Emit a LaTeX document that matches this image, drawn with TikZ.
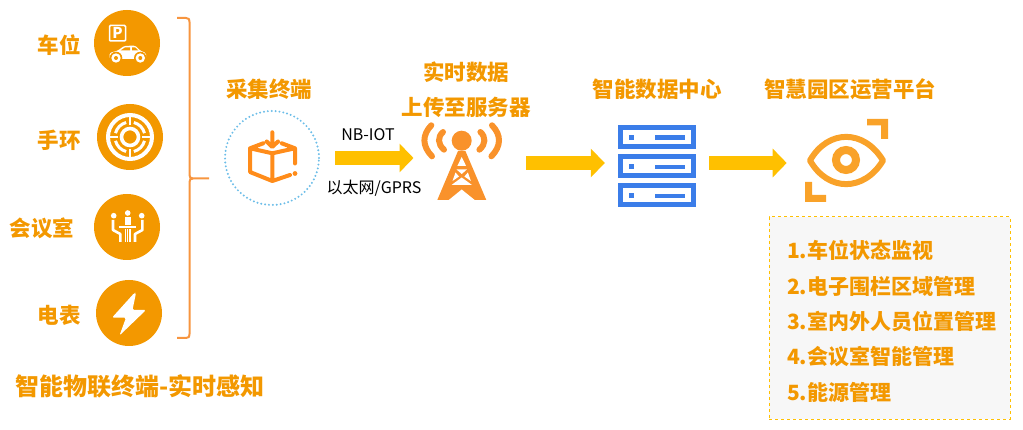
\documentclass[tikz,border=0pt]{standalone}
\usepackage{fontspec}
\setmainfont{Noto Sans CJK SC}
\usetikzlibrary{arrows.meta}
\definecolor{txtorange}{HTML}{F39800}
\definecolor{boxorange}{HTML}{FF8C1A}
\definecolor{towerorange}{HTML}{F9922B}
\definecolor{eyeorange}{HTML}{F9A229}
\definecolor{braceorange}{HTML}{F7953F}
\definecolor{arrowyellow}{HTML}{FFC000}
\definecolor{serverblue}{HTML}{3B7DE9}
\definecolor{dotblue}{HTML}{6CBDE8}
\tikzset{
  title/.style={text=txtorange, font=\fontsize{21.5}{22}\selectfont\bfseries, inner sep=0pt},
  listitem/.style={title, font=\fontsize{21}{21}\selectfont\bfseries, anchor=west},
  badge/.style={circle, fill=txtorange, minimum size=66pt, inner sep=0pt},
  place/.style={minimum width=#1, minimum height=90pt, inner sep=0pt},
  flow/.style={draw=arrowyellow, line width=14pt, -{Triangle[length=14pt,width=28pt]}},
  proto/.style={font=\fontsize{16}{16}\selectfont, inner sep=0pt},
  whiteline/.style={draw=white, line width=2.6pt}
}
\begin{document}
\begin{tikzpicture}[x=1pt, y=-1pt]
\useasboundingbox (0,0) rectangle (1023,430);

% left column
\node[badge] (park) at (127,43) {};
\node[badge] (band) at (130,137) {};
\node[badge] (room) at (127,227) {};
\node[badge] (meter) at (129,313) {};
\node[title] (parkname) at (59,45) {车位};
\node[title] (bandname) at (59,140) {手环};
\node[title] (roomname) at (42,228) {会议室};
\node[title] (metername) at (59,315) {电表};
\node[title, font=\fontsize{24}{24}\selectfont\bfseries] (things) at (140,386) {智能物联终端-实时感知};

% parking
\draw[white, line width=1.5pt, rounded corners=1pt] (109.5,25.5) rectangle (125.5,41);
\node[text=white, font=\fontsize{15}{15}\selectfont\bfseries, inner sep=0pt] (parkp) at (117.5,33) {P};
\fill[white, rounded corners=1.5pt] (109.5,59) -- (109.5,53) -- (118,50.5) -- (124,46) -- (135,45.5) -- (140,50.5) -- (146,53) -- (146,59) -- cycle;
\fill[txtorange] (120.5,50.5) -- (125,47.5) -- (130,47.3) -- (130,50.5) -- cycle (132,47.3) -- (135,47.3) -- (138.5,50.5) -- (132,50.5) -- cycle;
\foreach \x in {116,140.3} {
  \fill[txtorange] (\x,58) circle (6.3);
  \fill[white] (\x,58) circle (4.7);
  \fill[txtorange] (\x,58) circle (2);
}

% band
\draw[white, line width=4pt] (band) circle (22);
\draw[white, line width=3.6pt] (band) circle (8.5);
\foreach \a in {0,90,180,270} {
  \draw[white, line width=3pt] (\a+15:15) ++(130,137) arc[start angle=\a+15, end angle=\a+75, radius=15];
  \draw[white, line width=2.4pt] (130,137) ++(\a:21) -- ++(\a:-9);
}

% room
\foreach \x/\y in {113.7/215.7, 127.7/213, 141.7/215.7} \fill[white] (\x,\y) circle (2.8);
\fill[white] (124.7,217) rectangle (130.7,225);
\fill[white] (119.3,226) rectangle (136,228.2);
\foreach \x in {125.5,127.7,130} \draw[white, line width=1.3pt] (\x,229) -- (\x,242);
\draw[whiteline, line join=round] (113,220) -- (113,230) -- (120.3,234) -- (120.3,242);
\draw[whiteline, line join=round] (142.4,220) -- (142.4,230) -- (135,234) -- (135,242);

% meter
\fill[white, rounded corners=1.5pt] (134.3,293) -- (112,317.7) -- (126,317.7) -- (119.5,335.5) -- (146,310) -- (132.5,310) -- (136,293) -- cycle;

% brace
\draw[braceorange, line width=2pt] (177,18) -- (186,18) .. controls (189,18.5) .. (189.5,22) -- (189.5,175) .. controls (190,178) .. (193,178.5) -- (209,178.5);
\draw[braceorange, line width=2pt] (193,178.5) .. controls (190,179) .. (189.5,182) -- (189.5,334) .. controls (189,337.5) .. (186,338) -- (177,338);

% collect
\node[circle, draw=dotblue, line width=2.2pt, line cap=round, dash pattern=on 0pt off 3.9pt, minimum size=94pt, inner sep=0pt] (collect) at (272,158) {};
\node[title] (collectname) at (269,89) {采集终端};
\draw[boxorange, line width=4pt, line join=round, line cap=round]
  (263.3,143.3) -- (250,148.3) -- (272.3,153.3) -- (295,148.3) -- (281.7,143.3)
  (250,148.3) -- (250,172) -- (272.3,181) -- (290,175)
  (272.3,153.3) -- (272.3,181) (295,148.3) -- (295,163.5)
  (272.3,132.3) -- (272.3,146) (266.7,141.5) -- (272.3,147) -- (278,141.5);
\fill[boxorange] (295,173.5) circle (2.4);

% tower
\node[place=80pt] (tower) at (461.7,163) {};
\node[title] (towername) at (466,72) {实时数据};
\node[title] (towernameb) at (466,107) {上传至服务器};
\fill[towerorange] (461.7,140.7) circle (10);
\draw[towerorange, line width=6pt, line cap=round]
  (431.3,125.3) .. controls (422,135) and (422,146) .. (432,156.3)
  (443,132) .. controls (437.5,137) and (437.5,144) .. (444,149.7)
  (492,125.3) .. controls (501.4,135) and (501.4,146) .. (491.4,156.3)
  (480.4,132) .. controls (485.9,137) and (485.9,144) .. (479.4,149.7);
\fill[towerorange] (458,151) -- (465.4,151) -- (486.3,200) -- (437.3,200) -- cycle;
\fill[white] (461.7,157) -- (457.3,166) -- (466.1,166) -- cycle
  (456.6,169.5) -- (466.8,169.5) -- (461.7,174) -- cycle
  (455.5,172.5) -- (459,176.5) -- (452.5,181) -- cycle
  (467.9,172.5) -- (464.4,176.5) -- (470.9,181) -- cycle
  (461.7,177.5) -- (472,185) -- (451.5,185) -- cycle
  (461.7,189.5) -- (475.3,200.5) -- (448.1,200.5) -- cycle;

% server
\node[place=78pt] (server) at (657,163) {};
\node[title] (servername) at (657,89) {智能数据中心};
\foreach \y in {125,154.3,183.3} {
  \draw[serverblue, line width=5pt] (620.5,\y+2.5) rectangle (693.5,\y+21.7);
  \fill[serverblue] (628.5,\y+10) rectangle (633.5,\y+15);
  \fill[serverblue] (655.3,\y+10.5) rectangle (685,\y+14.7);
}

% eye
\node[place=83pt] (eye) at (846.4,163) {};
\node[title] (eyename) at (850,89) {智慧园区运营平台};
\draw[eyeorange, line width=6pt, line join=round] (810,160.5) .. controls (828,129) and (864,129) .. (883,160.5) .. controls (864,192) and (828,192) .. (810,160.5) -- cycle;
\draw[eyeorange, line width=8pt] (846,160) circle (10);
\fill[eyeorange] (867,119) -- (888,119) -- (888,139) -- (881,139) -- (881,125.5) -- (867,125.5) -- cycle;
\fill[eyeorange] (805,182) -- (812,182) -- (812,195) -- (826,195) -- (826,202) -- (805,202) -- cycle;

% arrows
\draw[flow, shorten <=15pt, shorten >=8pt] (collect.east) -- (collect.east -| tower.west);
\draw[flow, shorten <=24.3pt, shorten >=13pt] (tower.east) -- (server.west);
\draw[flow, shorten <=13pt, shorten >=18pt] (server.east) -- (eye.west);
\node[proto] (nbiot) at (368,135) {NB-IOT};
\node[proto] (gprs) at (374,188) {以太网/GPRS};

% panel
\node[draw=arrowyellow, fill=black!3, dashed, line width=1pt, minimum width=241pt, minimum height=202pt, inner sep=0pt] (panel) at (889.5,318) {};
\node[listitem] (itema) at (787,250) {1.车位状态监视};
\node[listitem] (itemb) at (787,286) {2.电子围栏区域管理};
\node[listitem] (itemc) at (787,321) {3.室内外人员位置管理};
\node[listitem] (itemd) at (787,357) {4.会议室智能管理};
\node[listitem] (iteme) at (787,392) {5.能源管理};
\end{tikzpicture}
\end{document}
